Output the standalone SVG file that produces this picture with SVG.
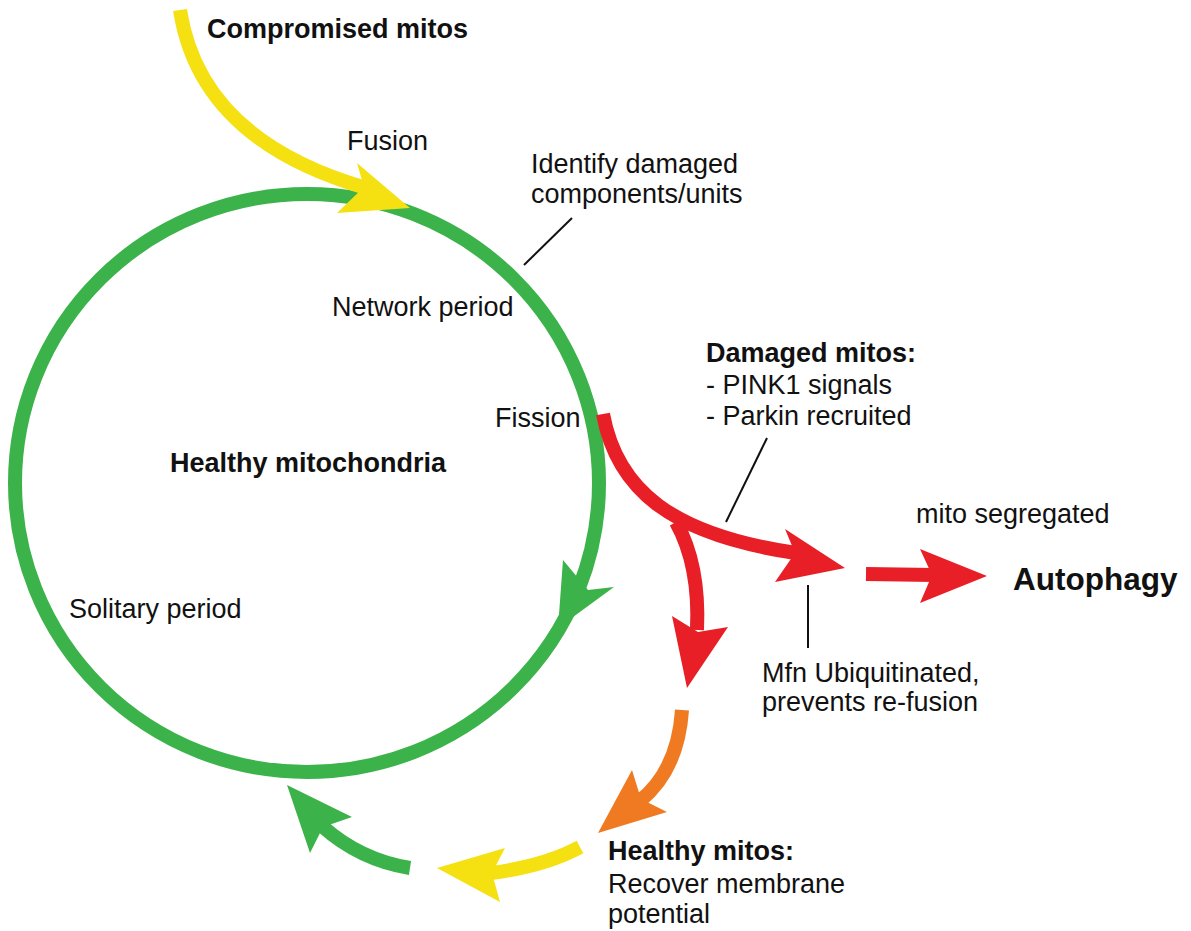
<svg xmlns="http://www.w3.org/2000/svg" width="1191" height="931" viewBox="0 0 1191 931">
<style>
text{font-family:"Liberation Sans",Arial,Helvetica,sans-serif;font-size:27px;fill:#111}
.b{font-weight:bold}
.big{font-size:31.5px;font-weight:bold}
.shaft{fill:none;stroke-width:14}
.g{stroke:#3bb34a}.gf{fill:#3bb34a}
.y{stroke:#f5e112}.yf{fill:#f5e112}
.r{stroke:#e81f27}.rf{fill:#e81f27}
.o{stroke:#ef7a22}.of{fill:#ef7a22}
.lead{stroke:#111;stroke-width:2;fill:none}
</style>
<rect width="1191" height="931" fill="#fff"/>
<g id="cycle">
<ellipse cx="307" cy="483" rx="292" ry="289" class="shaft g"/>
</g>
<g id="connectors">
<!-- red fission branch -->
<path d="M603 414 C617 490 672 535 796 553" class="shaft r" stroke-width="15"/>
<path d="M676 522 Q700 565 697 630" class="shaft r"/>
<polygon points="845,568 785,529 795,553 775,582" class="rf"/>
<polygon points="687,688 672,616 698,632 728,627" class="rf"/>
<!-- straight red arrow -->
<path d="M866 574 L934 575" class="shaft r"/>
<polygon points="987,576 920,549 932,575 920,603" class="rf"/>
<!-- green circle arrowhead -->
<polygon points="558,628 563,560 588,590 614,587" class="gf"/>
<!-- yellow top -->
<path d="M180 10 Q200 140 366 188" class="shaft y"/>
<polygon points="410,208 357,163 364,187 337,213" class="yf"/>
<!-- orange -->
<path d="M682 710 Q678 770 640 801" class="shaft o"/>
<polygon points="598,833 632,770 641,799 667,812" class="of"/>
<!-- yellow bottom -->
<path d="M580 847 Q545 866 491 873" class="shaft y"/>
<polygon points="437,868 505,848 492,873 500,902" class="yf"/>
<!-- green bottom -->
<path d="M410 868 Q360 860 322 826" class="shaft g"/>
<polygon points="287,785 352,817 323,827 310,853" class="gf"/>
<!-- leader lines -->
<line x1="572" y1="218" x2="524" y2="265" class="lead"/>
<line x1="767" y1="438" x2="726" y2="522" class="lead"/>
<line x1="808" y1="585" x2="808" y2="648" class="lead"/>
</g>
<g id="n-compromised"><text x="207" y="38" class="b">Compromised mitos</text></g>
<g id="n-fusion"><text x="347" y="150">Fusion</text></g>
<g id="n-identify"><text x="531" y="173">Identify damaged</text><text x="531" y="203">components/units</text></g>
<g id="n-network"><text x="332" y="316">Network period</text></g>
<g id="n-fission"><text x="495" y="427">Fission</text></g>
<g id="n-damaged"><text x="706" y="362" class="b">Damaged mitos:</text><text x="706" y="394">- PINK1 signals</text><text x="706" y="425">- Parkin recruited</text></g>
<g id="n-healthy"><text x="170" y="472" class="b">Healthy mitochondria</text></g>
<g id="n-solitary"><text x="69" y="618">Solitary period</text></g>
<g id="n-segregated"><text x="916" y="523">mito segregated</text></g>
<g id="n-autophagy"><text x="1013" y="590" class="big">Autophagy</text></g>
<g id="n-mfn"><text x="762" y="682">Mfn Ubiquitinated,</text><text x="762" y="711">prevents re-fusion</text></g>
<g id="n-healthymitos"><text x="608" y="860" class="b">Healthy mitos:</text><text x="608" y="893">Recover membrane</text><text x="608" y="923">potential</text></g>
</svg>
